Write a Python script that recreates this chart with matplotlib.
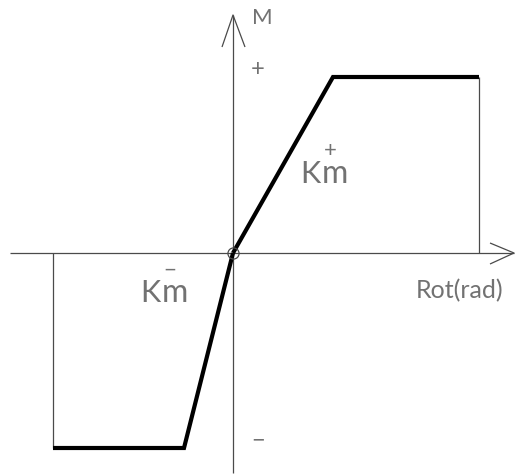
import matplotlib
matplotlib.use("Agg")
import matplotlib.pyplot as plt

# Bilinear moment-rotation law (arbitrary units)
rot_pos = [0.0, 1.00, 2.46]      # origin, yield, ultimate (positive)
mom_pos = [0.0, 1.76, 1.76]
rot_neg = [0.0, -0.49, -1.80]    # origin, yield, ultimate (negative)
mom_neg = [0.0, -1.95, -1.95]

axis_label_x = "Rot(rad)"
axis_label_y = "M"
stiff_pos = "K"
stiff_sub = "m"

W, H = 516, 475
fig = plt.figure(figsize=(W / 100, H / 100), dpi=100)
ax = fig.add_axes([0, 0, 1, 1])
ax.set_xlim(-2.33, 2.83)
ax.set_ylim(-2.22, 2.53)
ax.axis("off")

thin = dict(color="#4a4a4a", lw=0.9, solid_capstyle="butt")
txt = dict(color="#727272", family="Lato", fontweight="normal")

# coordinate axes with open arrowheads
ax.plot([-2.23, 2.81], [0, 0], **thin)
ax.plot([2.57, 2.81, 2.57], [0.10, 0.0, -0.11], **thin)
ax.plot([0, 0], [-2.20, 2.38], **thin)
ax.plot([-0.11, 0.0, 0.12], [2.06, 2.38, 2.06], **thin)

# ultimate rotation drop lines
ax.plot([rot_pos[2], rot_pos[2]], [0, mom_pos[2]], **thin)
ax.plot([rot_neg[2], rot_neg[2]], [0, mom_neg[2]], **thin)

# moment-rotation branches
ax.plot(rot_pos, mom_pos, color="black", lw=3.0, solid_joinstyle="miter", solid_capstyle="butt")
ax.plot(rot_neg, mom_neg, color="black", lw=3.0, solid_joinstyle="miter", solid_capstyle="butt")

# origin marker
ax.plot([0], [0], marker="o", ms=8, mfc="none", mec="#4a4a4a", mew=0.9)

# labels
ax.text(0.19, 2.35, axis_label_y, fontsize=16, ha="left", va="center", **txt)
ax.text(0.25, 1.83, "+", fontsize=17, ha="center", va="center", **txt)
ax.text(0.25, -1.88, "\u2212", fontsize=17, ha="center", va="center", **txt)
ax.text(1.83, -0.38, axis_label_x, fontsize=18, ha="left", va="center", **txt)

ax.text(0.67, 0.70, stiff_pos, fontsize=22, ha="left", va="baseline", **txt)
ax.text(0.885, 0.70, stiff_sub, fontsize=23, ha="left", va="baseline", **txt)
ax.text(0.97, 1.02, "+", fontsize=16, ha="center", va="center", **txt)

ax.text(-0.93, -0.49, stiff_pos, fontsize=22, ha="left", va="baseline", **txt)
ax.text(-0.715, -0.49, stiff_sub, fontsize=23, ha="left", va="baseline", **txt)
ax.text(-0.63, -0.18, "\u2212", fontsize=16, ha="center", va="center", **txt)

fig.savefig("out.png", dpi=100)
